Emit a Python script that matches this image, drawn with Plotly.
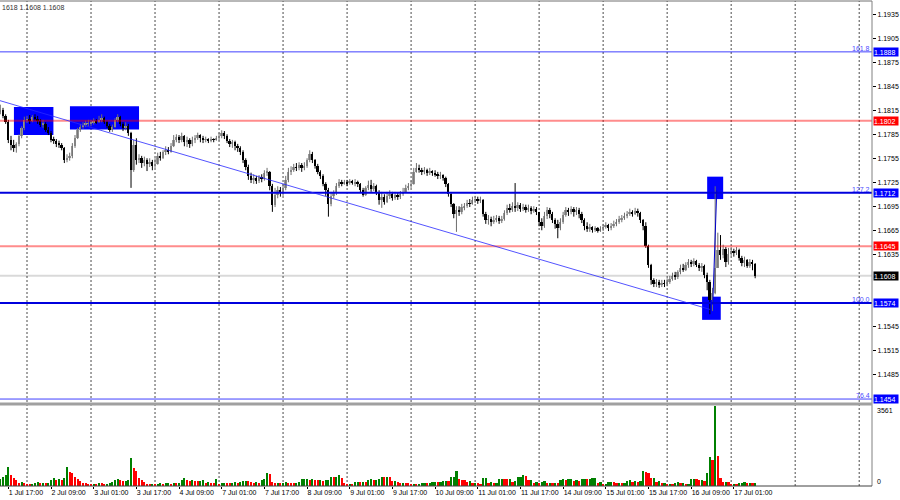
import plotly.graph_objects as go
import pandas as pd

# ---------------- data (EURUSD H1) ----------------
first_open = 1.1813
close = [
 1.1815,1.1808,1.1800,1.1778,1.1772,1.1768,1.1773,1.1783,1.1793,1.1803,
 1.1804,1.1802,1.1807,1.1804,1.1802,1.1797,1.1798,1.1790,1.1787,1.1778,
 1.1777,1.1773,1.1772,1.1768,1.1753,1.1755,1.1758,1.1770,1.1780,1.1790,
 1.1794,1.1797,1.1798,1.1799,1.1800,1.1802,1.1800,1.1803,1.1805,1.1800,
 1.1795,1.1790,1.1794,1.1803,1.1807,1.1798,1.1793,1.1795,1.1787,1.1740,
 1.1772,1.1753,1.1755,1.1749,1.1753,1.1748,1.1750,1.1745,1.1748,1.1758,
 1.1755,1.1763,1.1765,1.1763,1.1770,1.1778,1.1782,1.1778,1.1783,1.1775,
 1.1778,1.1773,1.1778,1.1780,1.1784,1.1780,1.1778,1.1779,1.1777,1.1779,
 1.1778,1.1780,1.1783,1.1787,1.1783,1.1777,1.1773,1.1775,1.1770,1.1768,
 1.1763,1.1753,1.1744,1.1733,1.1728,1.1730,1.1727,1.1732,1.1729,1.1737,
 1.1738,1.1720,1.1697,1.1709,1.1715,1.1713,1.1718,1.1728,1.1738,1.1740,
 1.1744,1.1743,1.1747,1.1743,1.1745,1.1753,1.1760,1.1753,1.1745,1.1738,
 1.1733,1.1723,1.1715,1.1698,1.1708,1.1712,1.1720,1.1725,1.1724,1.1725,
 1.1724,1.1727,1.1724,1.1725,1.1723,1.1715,1.1709,1.1718,1.1722,1.1717,
 1.1720,1.1713,1.1703,1.1707,1.1700,1.1708,1.1710,1.1705,1.1709,1.1707,
 1.1710,1.1713,1.1718,1.1720,1.1723,1.1738,1.1743,1.1740,1.1738,1.1740,
 1.1737,1.1739,1.1737,1.1735,1.1733,1.1734,1.1730,1.1723,1.1710,1.1698,
 1.1685,1.1690,1.1688,1.1694,1.1695,1.1699,1.1698,1.1703,1.1704,1.1702,
 1.1703,1.1685,1.1678,1.1679,1.1675,1.1678,1.1680,1.1677,1.1679,1.1687,
 1.1693,1.1690,1.1695,1.1693,1.1697,1.1692,1.1694,1.1690,1.1693,1.1689,
 1.1692,1.1688,1.1675,1.1670,1.1683,1.1690,1.1685,1.1678,1.1673,1.1668,
 1.1675,1.1684,1.1690,1.1688,1.1692,1.1688,1.1690,1.1685,1.1678,1.1670,
 1.1667,1.1669,1.1665,1.1668,1.1664,1.1667,1.1669,1.1672,1.1668,1.1670,
 1.1673,1.1675,1.1679,1.1680,1.1683,1.1685,1.1688,1.1685,1.1689,1.1687,
 1.1678,1.1670,1.1645,1.1622,1.1603,1.1598,1.1600,1.1597,1.1599,1.1598,
 1.1600,1.1604,1.1608,1.1607,1.1613,1.1618,1.1615,1.1622,1.1625,1.1623,
 1.1627,1.1622,1.1618,1.1620,1.1609,1.1600,1.1578,1.1587,1.1618,1.1640,
 1.1634,1.1642,1.1625,1.1635,1.1639,1.1637,1.1640,1.1630,1.1624,1.1628,
 1.1620,1.1625,1.1623,1.1608]
high = [
 1.1822,1.1818,1.1810,1.1803,1.1783,1.1778,1.1775,1.1785,1.1795,1.1807,
 1.1808,1.1809,1.1809,1.1810,1.1808,1.1804,1.1803,1.1800,1.1794,1.1789,
 1.1782,1.1779,1.1777,1.1774,1.1769,1.1760,1.1762,1.1774,1.1784,1.1793,
 1.1798,1.1800,1.1802,1.1803,1.1803,1.1805,1.1804,1.1808,1.1810,1.1807,
 1.1802,1.1798,1.1797,1.1805,1.1810,1.1808,1.1800,1.1800,1.1798,1.1788,
 1.1778,1.1780,1.1760,1.1758,1.1757,1.1755,1.1755,1.1753,1.1755,1.1762,
 1.1763,1.1765,1.1770,1.1769,1.1774,1.1784,1.1785,1.1784,1.1787,1.1784,
 1.1782,1.1780,1.1782,1.1784,1.1787,1.1785,1.1783,1.1782,1.1780,1.1782,
 1.1780,1.1783,1.1787,1.1790,1.1789,1.1785,1.1779,1.1778,1.1777,1.1773,
 1.1770,1.1765,1.1755,1.1747,1.1737,1.1735,1.1733,1.1734,1.1735,1.1740,
 1.1743,1.1739,1.1723,1.1718,1.1720,1.1719,1.1723,1.1733,1.1743,1.1745,
 1.1748,1.1749,1.1750,1.1749,1.1750,1.1755,1.1765,1.1763,1.1754,1.1748,
 1.1740,1.1735,1.1725,1.1718,1.1713,1.1715,1.1724,1.1729,1.1728,1.1728,
 1.1728,1.1729,1.1728,1.1729,1.1727,1.1724,1.1718,1.1720,1.1727,1.1728,
 1.1724,1.1722,1.1715,1.1713,1.1710,1.1713,1.1715,1.1713,1.1713,1.1712,
 1.1714,1.1718,1.1722,1.1724,1.1727,1.1743,1.1749,1.1747,1.1743,1.1744,
 1.1742,1.1743,1.1740,1.1740,1.1738,1.1738,1.1735,1.1732,1.1724,1.1712,
 1.1699,1.1695,1.1695,1.1698,1.1699,1.1703,1.1704,1.1707,1.1708,1.1707,
 1.1707,1.1704,1.1688,1.1684,1.1682,1.1683,1.1684,1.1683,1.1683,1.1690,
 1.1697,1.1698,1.1700,1.1724,1.1700,1.1699,1.1698,1.1697,1.1697,1.1695,
 1.1695,1.1694,1.1688,1.1680,1.1688,1.1694,1.1693,1.1688,1.1680,1.1678,
 1.1680,1.1688,1.1694,1.1693,1.1695,1.1694,1.1694,1.1693,1.1688,1.1680,
 1.1675,1.1673,1.1670,1.1670,1.1669,1.1670,1.1673,1.1675,1.1673,1.1674,
 1.1677,1.1679,1.1683,1.1684,1.1687,1.1689,1.1692,1.1690,1.1693,1.1692,
 1.1688,1.1679,1.1675,1.1647,1.1623,1.1605,1.1604,1.1603,1.1603,1.1603,
 1.1605,1.1608,1.1612,1.1613,1.1615,1.1622,1.1623,1.1625,1.1629,1.1628,
 1.1630,1.1628,1.1624,1.1624,1.1622,1.1612,1.1603,1.1593,1.1720,1.1662,
 1.1659,1.1647,1.1644,1.1643,1.1644,1.1642,1.1644,1.1642,1.1633,1.1632,
 1.1629,1.1629,1.1628,1.1624]
low = [
 1.1810,1.1805,1.1798,1.1774,1.1765,1.1763,1.1762,1.1770,1.1780,1.1790,
 1.1799,1.1798,1.1800,1.1802,1.1798,1.1794,1.1793,1.1788,1.1784,1.1775,
 1.1773,1.1769,1.1768,1.1765,1.1749,1.1750,1.1752,1.1755,1.1768,1.1779,
 1.1788,1.1792,1.1794,1.1795,1.1795,1.1797,1.1798,1.1799,1.1800,1.1798,
 1.1793,1.1788,1.1788,1.1793,1.1800,1.1795,1.1789,1.1790,1.1783,1.1718,
 1.1738,1.1747,1.1749,1.1743,1.1745,1.1739,1.1744,1.1740,1.1743,1.1747,
 1.1752,1.1754,1.1759,1.1760,1.1762,1.1769,1.1775,1.1774,1.1775,1.1770,
 1.1769,1.1768,1.1770,1.1774,1.1778,1.1775,1.1774,1.1775,1.1774,1.1775,
 1.1775,1.1777,1.1777,1.1780,1.1779,1.1774,1.1769,1.1768,1.1765,1.1763,
 1.1759,1.1749,1.1740,1.1728,1.1724,1.1723,1.1723,1.1724,1.1725,1.1727,
 1.1733,1.1715,1.1688,1.1694,1.1705,1.1707,1.1708,1.1715,1.1725,1.1734,
 1.1738,1.1739,1.1740,1.1738,1.1740,1.1743,1.1750,1.1749,1.1742,1.1735,
 1.1729,1.1720,1.1708,1.1682,1.1695,1.1705,1.1709,1.1718,1.1720,1.1722,
 1.1720,1.1722,1.1722,1.1720,1.1719,1.1712,1.1707,1.1708,1.1715,1.1713,
 1.1714,1.1709,1.1697,1.1693,1.1697,1.1699,1.1704,1.1702,1.1703,1.1703,
 1.1704,1.1708,1.1712,1.1715,1.1718,1.1722,1.1737,1.1737,1.1734,1.1735,
 1.1733,1.1734,1.1733,1.1732,1.1729,1.1729,1.1727,1.1719,1.1707,1.1694,
 1.1680,1.1663,1.1683,1.1685,1.1690,1.1693,1.1694,1.1697,1.1699,1.1698,
 1.1699,1.1682,1.1673,1.1672,1.1670,1.1673,1.1675,1.1673,1.1674,1.1677,
 1.1684,1.1687,1.1688,1.1688,1.1689,1.1688,1.1689,1.1687,1.1688,1.1685,
 1.1687,1.1684,1.1670,1.1665,1.1668,1.1679,1.1680,1.1674,1.1667,1.1655,
 1.1665,1.1673,1.1682,1.1683,1.1685,1.1682,1.1684,1.1680,1.1674,1.1665,
 1.1663,1.1663,1.1662,1.1663,1.1662,1.1663,1.1664,1.1667,1.1664,1.1665,
 1.1668,1.1670,1.1673,1.1675,1.1678,1.1680,1.1683,1.1682,1.1684,1.1682,
 1.1674,1.1665,1.1643,1.1618,1.1597,1.1594,1.1594,1.1593,1.1594,1.1594,
 1.1595,1.1598,1.1602,1.1603,1.1604,1.1610,1.1613,1.1614,1.1618,1.1619,
 1.1620,1.1619,1.1614,1.1613,1.1605,1.1590,1.1560,1.1564,1.1585,1.1618,
 1.1628,1.1630,1.1619,1.1622,1.1633,1.1632,1.1634,1.1627,1.1620,1.1619,
 1.1618,1.1618,1.1615,1.1605]
volume = [
 310,400,490,850,490,350,270,135,180,130,
 90,90,110,150,170,130,140,125,150,270,
 350,270,310,270,350,860,620,600,400,310,
 220,150,130,90,60,90,85,130,120,90,
 95,150,190,270,330,270,220,230,270,1250,
 800,670,370,270,180,110,90,100,60,110,
 130,110,130,140,110,130,125,150,270,360,
 270,240,250,240,220,240,270,150,180,150,
 120,320,80,130,150,140,130,150,180,150,
 160,220,230,220,180,150,160,150,270,330,
 590,530,190,120,130,120,150,160,150,150,
 140,150,160,300,310,320,280,290,280,250,
 260,230,250,260,400,390,420,490,340,120,
 90,95,90,160,170,160,165,160,280,290,
 260,280,300,400,380,400,380,220,230,200,
 140,150,130,120,90,95,90,100,140,150,
 140,145,180,190,180,190,220,230,220,400,
 410,680,300,270,250,200,210,120,130,120,
 50,340,350,150,160,120,130,310,320,310,
 300,310,200,210,400,410,490,445,270,280,
 150,160,150,200,210,130,140,130,135,130,
 280,290,280,300,310,240,250,240,300,310,
 300,305,340,345,150,160,60,70,170,180,
 170,120,130,120,125,240,250,200,210,200,
 205,680,640,590,340,350,200,210,120,130,
 50,55,50,150,160,120,130,90,95,300,
 310,300,270,280,220,590,1300,1150,3561,1350,
 340,190,200,190,90,95,90,120,150,160,
 120,130,120,125]

tick_labels = ["1 Jul 17:00", "2 Jul 09:00", "3 Jul 01:00", "3 Jul 17:00", "4 Jul 09:00",
               "7 Jul 01:00", "7 Jul 17:00", "8 Jul 09:00", "9 Jul 01:00", "9 Jul 17:00",
               "10 Jul 09:00", "11 Jul 01:00", "11 Jul 17:00", "14 Jul 09:00", "15 Jul 01:00",
               "15 Jul 17:00", "16 Jul 09:00", "17 Jul 01:00"]
price_ticks = [1.1935, 1.1905, 1.1875, 1.1845, 1.1815, 1.1785, 1.1755, 1.1725, 1.1695,
               1.1665, 1.1635, 1.1545, 1.1515, 1.1485]

# horizontal levels: price, fibo text, kind
level_prices = [1.1888, 1.1802, 1.1712, 1.1645, 1.1608, 1.1574, 1.1454]
level_fibo   = ["161.8", "", "127.2", "", "", "100.0", "76.4"]
level_kind   = ["fibo_thin", "red", "fibo_thick", "red", "bid", "fibo_thick", "fibo_thin"]

# drawn rectangles: (bar-index start, bar-index end, price low, price high)
box_x0 = [5.1, 26.1, 265.0, 263.1]
box_x1 = [19.9, 52.0, 271.0, 270.1]
box_lo = [1.1784, 1.1791, 1.1704, 1.1553]
box_hi = [1.1819, 1.1820, 1.1732, 1.1582]

# drawn trend line and fibo connector: (index, price) pairs
trend_pts = [(-0.12, 1.1827), (266.1, 1.1566)]
fibo_conn = [(267.1, 1.1572), (268.6, 1.1715)]

vol_max = 3561

# ---------------- time axis ----------------
all_hours = pd.date_range("2025-07-01 14:00", "2025-07-31 23:00", freq="h")
times = [t for t in all_hours if t.weekday() < 5]
n = len(close)
axis_times = times[:330]

def fmt(t):
    return f"{t.day} {t.strftime('%b')} {t.strftime('%H:%M')}"

label_idx = {fmt(t): i for i, t in enumerate(axis_times)}
tickvals = [label_idx[s] for s in tick_labels]
grid_idx = [i for i, t in enumerate(axis_times) if t.hour == 0]

opens = [first_open] + close[:-1]
idx = list(range(n))

# ---------------- figure ----------------
FONT = "Liberation Sans Narrow, Arial Narrow, Liberation Sans, Arial"
fig = go.Figure()

bull_x, bull_b, bull_h, bear_x, bear_b, bear_h = [], [], [], [], [], []
wbx, wby, wrx, wry = [], [], [], []
MIN_BODY = 0.00008
for i in idx:
    o, c, h, l = opens[i], close[i], high[i], low[i]
    b = min(o, c)
    hh = max(abs(c - o), MIN_BODY)
    top = max(h, o, c)
    bot = min(l, o, c)
    if c >= o:
        bull_x.append(i); bull_b.append(b); bull_h.append(hh)
        wbx += [i, i, None]; wby += [bot, top, None]
    else:
        bear_x.append(i); bear_b.append(b); bear_h.append(hh)
        wrx += [i, i, None]; wry += [bot, top, None]

fig.add_trace(go.Scatter(x=wbx, y=wby, mode="lines", line=dict(color="#6e6e6e", width=1),
                         xaxis="x", yaxis="y", hoverinfo="skip"))
fig.add_trace(go.Scatter(x=wrx, y=wry, mode="lines", line=dict(color="#000000", width=1),
                         xaxis="x", yaxis="y", hoverinfo="skip"))
fig.add_trace(go.Bar(x=bull_x, y=bull_h, base=bull_b, width=0.72,
                     marker=dict(color="#9a9a9a", line=dict(width=0)),
                     xaxis="x", yaxis="y", hoverinfo="skip"))
fig.add_trace(go.Bar(x=bear_x, y=bear_h, base=bear_b, width=0.72,
                     marker=dict(color="#000000", line=dict(width=0)),
                     xaxis="x", yaxis="y", hoverinfo="skip"))

vcolors = ["#008000"] + ["#008000" if volume[i] > volume[i - 1] else "#ff0000" for i in range(1, n)]
fig.add_trace(go.Bar(x=idx, y=volume, width=0.8, marker=dict(color=vcolors, line=dict(width=0)),
                     xaxis="x2", yaxis="y2", hoverinfo="skip"))

# ---------------- geometry ----------------
W, H = 900, 500
ml, mr, mt, mb = 0, 28, 1, 14
ph = H - mt - mb
def py(pix):  # pixel row -> paper y
    return (H - mb - pix) / ph

main_dom = [py(402), 1]
vol_dom = [0, py(406)]
xr = [-0.124, 326.8]
yr = [1.14503, 1.19516]

shapes = []
# vertical dashed grid
for g in grid_idx:
    shapes.append(dict(type="line", xref="x", yref="paper", x0=g, x1=g, y0=0, y1=1,
                       line=dict(color="#4a4a4a", width=1, dash="2px,2px"), layer="below"))
# rectangles (background objects)
for x0, x1, lo, hi in zip(box_x0, box_x1, box_lo, box_hi):
    shapes.append(dict(type="rect", xref="x", yref="y", x0=x0, x1=x1, y0=lo, y1=hi,
                       fillcolor="#0000ff", line=dict(width=0), layer="below"))

styles = {
    "fibo_thin": dict(color="rgba(0,0,255,0.75)", width=1),
    "fibo_thick": dict(color="#0000dd", width=2),
    "red": dict(color="rgba(255,0,0,0.45)", width=2),
    "bid": dict(color="rgba(0,0,0,0.15)", width=2),
}
for p, k in zip(level_prices, level_kind):
    shapes.append(dict(type="line", xref="paper", yref="y", x0=0, x1=1, y0=p, y1=p,
                       line=styles[k], layer="above"))
# trend line & connector
shapes.append(dict(type="line", xref="x", yref="y", x0=trend_pts[0][0], y0=trend_pts[0][1],
                   x1=trend_pts[1][0], y1=trend_pts[1][1],
                   line=dict(color="rgba(40,40,255,0.8)", width=1), layer="above"))
shapes.append(dict(type="line", xref="x", yref="y", x0=fibo_conn[0][0], y0=fibo_conn[0][1],
                   x1=fibo_conn[1][0], y1=fibo_conn[1][1],
                   line=dict(color="#0000c8", width=1), layer="above"))
# frame
shapes.append(dict(type="line", xref="paper", yref="paper", x0=0, x1=1, y0=1, y1=1,
                   line=dict(color="#707070", width=1)))
shapes.append(dict(type="line", xref="paper", yref="paper", x0=1, x1=1, y0=0, y1=1,
                   line=dict(color="#808080", width=1)))
shapes.append(dict(type="line", xref="paper", yref="paper", x0=0, x1=1, y0=0, y1=0,
                   line=dict(color="#404040", width=1)))
shapes.append(dict(type="line", xref="paper", yref="paper", x0=0, x1=1, y0=py(404), y1=py(404),
                   line=dict(color="#a0a0a0", width=3)))

annotations = []
box_bg = {"fibo_thin": "#0000ff", "fibo_thick": "#0000ff", "red": "#ff0000", "bid": "#000000"}
for p, f, k in zip(level_prices, level_fibo, level_kind):
    if f:
        annotations.append(dict(xref="paper", yref="y", x=1, y=p, xanchor="right", yanchor="bottom",
                                xshift=-1, yshift=-1, text=f, showarrow=False, borderpad=0,
                                font=dict(family=FONT, size=7, color="#4b4bff")))
for p, f, k in zip(level_prices, level_fibo, level_kind):
    annotations.append(dict(xref="paper", yref="y", x=1, y=p, xanchor="left", yanchor="middle",
                            xshift=1, text=f"{p:.4f}", showarrow=False, bgcolor=box_bg[k],
                            font=dict(family=FONT, size=7, color="white"),
                            width=24, height=8, borderpad=0, align="left"))
annotations.append(dict(xref="paper", yref="paper", x=0, y=1, xanchor="left", yanchor="top",
                        yshift=-1, text="1618 1.1608 1.1608", showarrow=False,
                        font=dict(family=FONT, size=7, color="#303030")))
annotations.append(dict(xref="paper", yref="paper", x=1, y=py(410), xanchor="left", yanchor="middle",
                        xshift=3, text=str(vol_max), showarrow=False,
                        font=dict(family=FONT, size=7, color="#000")))
annotations.append(dict(xref="paper", yref="paper", x=1, y=py(481), xanchor="left", yanchor="middle",
                        xshift=3, text="0", showarrow=False,
                        font=dict(family=FONT, size=7, color="#000")))

fig.update_layout(
    width=W, height=H, margin=dict(l=ml, r=mr, t=mt, b=mb, autoexpand=False),
    paper_bgcolor="white", plot_bgcolor="white", showlegend=False,
    barmode="overlay", bargap=0, hovermode=False,
    font=dict(family=FONT, size=7, color="#000"),
    xaxis=dict(domain=[0, 1], range=xr, anchor="y", showgrid=False, zeroline=False,
               showticklabels=False, ticks="", showline=False, automargin=False),
    xaxis2=dict(domain=[0, 1], range=xr, anchor="y2", matches="x", showgrid=False, zeroline=False,
                tickmode="array", tickvals=tickvals, ticktext=tick_labels, tickangle=0,
                ticks="outside", ticklen=2, tickcolor="#000", ticklabelposition="outside right",
                ticklabelstandoff=0,
                tickfont=dict(family=FONT, size=7, color="#000"), showline=False, automargin=False),
    yaxis=dict(domain=main_dom, range=yr, side="right", anchor="x", showgrid=False, zeroline=False,
               tickmode="array", tickvals=price_ticks, tickformat=".4f",
               ticks="outside", ticklen=3, tickcolor="#000",
               tickfont=dict(family=FONT, size=7, color="#000"), showline=False, automargin=False),
    yaxis2=dict(domain=vol_dom, range=[0, vol_max], side="right", anchor="x2", showgrid=False,
                zeroline=False, showticklabels=False, ticks="", showline=False, automargin=False),
    shapes=shapes, annotations=annotations,
)

fig.write_html("out.html", config={"displayModeBar": False},
               post_script="document.body.style.margin='0';document.body.style.overflow='hidden';")
